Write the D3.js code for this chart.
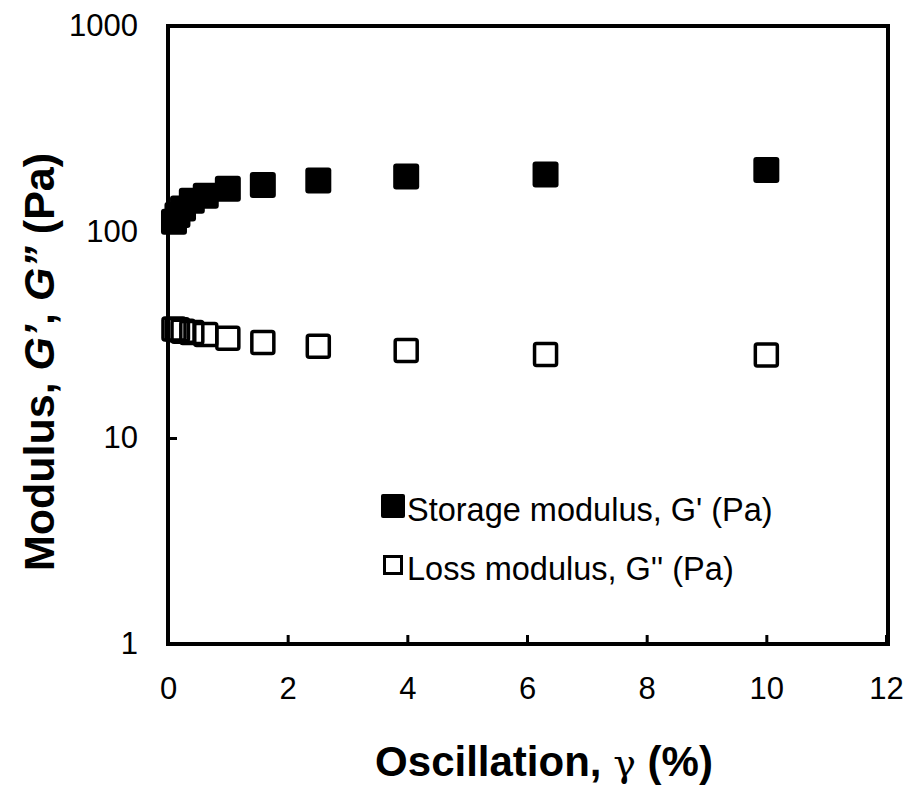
<!DOCTYPE html>
<html><head><meta charset="utf-8">
<script src="https://cdn.jsdelivr.net/npm/d3@7"></script>
<style>body{margin:0;background:#fff}svg{display:block}</style>
</head><body>
<script>
const strain = [0.1, 0.158, 0.251, 0.398, 0.631, 1.0, 1.585, 2.512, 3.981, 6.31, 10.0];
const storageModulus = [112, 121, 130, 142, 150, 162, 169, 178, 186, 190, 200];
const lossModulus = [33.8, 33.5, 33.0, 32.5, 31.8, 30.5, 29.1, 27.9, 26.6, 25.4, 25.3];
const xTicks = [0, 2, 4, 6, 8, 10, 12];
const yTicks = [1, 10, 100, 1000];
const seriesNames = ["Storage modulus, G' (Pa)", "Loss modulus, G'' (Pa)"];

const W = 912, H = 785;
const m = {l: 168, r: 886, t: 26, b: 644};
const svg = d3.select("body").append("svg").attr("width", W).attr("height", H);
const x = d3.scaleLinear().domain([0, 12]).range([m.l, m.r]);
const y = d3.scaleLog().domain([1, 1000]).range([m.b, m.t]);
const font = "Liberation Sans, Arial, sans-serif";

// frame
svg.append("rect").attr("x", m.l).attr("y", m.t).attr("width", m.r - m.l + 2).attr("height", m.b - m.t)
  .attr("fill", "none").attr("stroke", "#000").attr("stroke-width", 4);

// x axis
const xa = svg.append("g").attr("transform", `translate(0,${m.b})`)
  .call(d3.axisBottom(x).tickValues(xTicks).tickSize(-9).tickPadding(33).tickFormat(d3.format("d")));
xa.select(".domain").remove();
xa.selectAll("line").attr("stroke-width", 3);
xa.selectAll("text").attr("font-family", font).attr("font-size", 31).attr("fill", "#000");

// y axis
const ya = svg.append("g").attr("transform", `translate(${m.l},0)`)
  .call(d3.axisLeft(y).tickValues(yTicks).tickSize(-9).tickPadding(30).tickFormat(d3.format("d")));
ya.select(".domain").remove();
ya.selectAll("line").attr("stroke-width", 3);
ya.selectAll("text").attr("font-family", font).attr("font-size", 31).attr("fill", "#000");

// data
const S = 26;
svg.append("g").selectAll("rect").data(strain.map((d, i) => [d, storageModulus[i]])).join("rect")
  .attr("x", d => x(d[0]) - S/2).attr("y", d => y(d[1]) - S/2)
  .attr("width", S).attr("height", S).attr("rx", 3).attr("fill", "#000");
const O = 22;
svg.append("g").selectAll("rect").data(strain.map((d, i) => [d, lossModulus[i]])).join("rect")
  .attr("x", d => x(d[0]) - O/2).attr("y", d => y(d[1]) - O/2)
  .attr("width", O).attr("height", O).attr("rx", 2).attr("fill", "none")
  .attr("stroke", "#000").attr("stroke-width", 3.5);

// legend
const lg = svg.append("g").attr("font-family", font).attr("font-size", 32.5);
lg.append("rect").attr("x", 381).attr("y", 494).attr("width", 24).attr("height", 24).attr("rx", 2).attr("fill", "#000");
lg.append("text").attr("x", 407).attr("y", 521).text(seriesNames[0]);
lg.append("rect").attr("x", 384.5).attr("y", 556.5).attr("width", 17).attr("height", 17).attr("fill", "none")
  .attr("stroke", "#000").attr("stroke-width", 3);
lg.append("text").attr("x", 407).attr("y", 580).text(seriesNames[1]);

// axis titles
svg.append("text").attr("x", 544).attr("y", 776).attr("text-anchor", "middle")
  .attr("font-family", font).attr("font-size", 42).attr("font-weight", "bold")
  .html('Oscillation, <tspan font-weight="normal" font-family="DejaVu Serif, serif" font-size="38">γ</tspan> (%)');
svg.append("text").attr("transform", "translate(54,362) rotate(-90)").attr("text-anchor", "middle")
  .attr("font-family", font).attr("font-size", 43).attr("font-weight", "bold")
  .html('Modulus, <tspan font-style="italic">G’</tspan>, <tspan font-style="italic">G”</tspan> (Pa)');
</script>
</body></html>
